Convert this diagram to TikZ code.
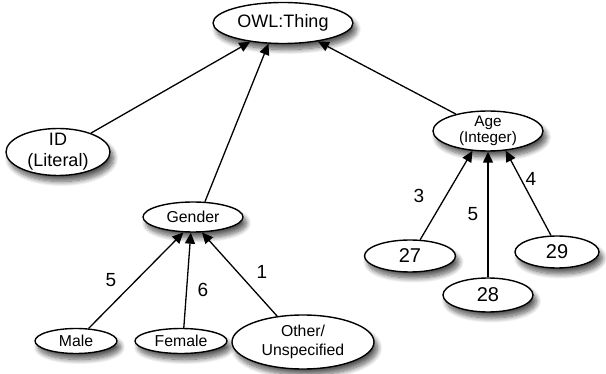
\documentclass[tikz,border=0pt]{standalone}
\usepackage{fontspec}
\setmainfont{Liberation Sans}
\usetikzlibrary{shapes.geometric,arrows.meta,shadows.blur}
\begin{document}
\begin{tikzpicture}[x=1pt,y=-1pt,
  ell/.style={ellipse,draw=black,line width=1.4pt,fill=white,inner sep=0pt,
    blur shadow={shadow xshift=3.5pt,shadow yshift=-6pt,shadow blur radius=5pt,shadow blur steps=10,shadow opacity=65}},
  txt/.style={inner sep=0pt,align=center},
  bigtxt/.style={txt,font=\fontsize{18}{21}\selectfont},
  midtxt/.style={txt,font=\fontsize{15.8}{18.5}\selectfont},
  numtxt/.style={txt,font=\fontsize{20}{22}\selectfont},
  lbl/.style={font=\fontsize{19}{20}\selectfont},
  arr/.style={line width=1.3pt,-{Triangle[length=11pt,width=10pt]}}]
\useasboundingbox (0,0) rectangle (606,374);
\node[ell,minimum width=140pt,minimum height=41pt] (owl) at (283,23) {};
\node[bigtxt] (owltxt) at (owl) {OWL:Thing};
\node[ell,minimum width=104pt,minimum height=47pt] (id) at (58,152) {};
\node[bigtxt] (idtxt) at (id) {ID\\(Literal)};
\node[ell,minimum width=110pt,minimum height=40pt] (age) at (488,131) {};
\node[midtxt,font=\fontsize{15.3}{15.5}\selectfont] (agetxt) at (age) {Age\\(Integer)};
\node[ell,minimum width=100pt,minimum height=30pt] (gender) at (193,217) {};
\node[midtxt] (gendertxt) at (gender) {Gender};
\node[ell,minimum width=82pt,minimum height=25pt] (male) at (76,341) {};
\node[midtxt] (maletxt) at (male) {Male};
\node[ell,minimum width=92pt,minimum height=25pt] (female) at (181,341) {};
\node[midtxt] (femaletxt) at (female) {Female};
\node[ell,minimum width=142pt,minimum height=54pt] (other) at (303,342) {};
\node[midtxt] (othertxt) at (other) {Other/\\Unspecified};
\node[ell,minimum width=91pt,minimum height=32pt] (n27) at (410,256) {};
\node[numtxt] (n27txt) at (n27) {27};
\node[ell,minimum width=90pt,minimum height=34pt] (n28) at (488,295) {};
\node[numtxt] (n28txt) at (n28) {28};
\node[ell,minimum width=84pt,minimum height=32pt] (n29) at (557,252) {};
\node[numtxt] (n29txt) at (n29) {29};

\draw[arr] (id) -- (owl);
\draw[arr] (gender.52) -- (owl.235);
\draw[arr] (age) -- (owl);
\draw[arr] (male.45) -- (gender.238);
\draw[arr] (female.78) -- (gender.262);
\draw[arr] (other.135) -- (gender.300);
\draw[arr] (n27.58) -- (age.232);
\draw[arr] (n28.north) -- (age.south);
\draw[arr] (n29.110) -- (age.312);

\node[lbl] (l5a) at (111,280) {5};
\node[lbl] (l6) at (203,290) {6};
\node[lbl] (l1) at (262,272) {1};
\node[lbl] (l3) at (419,196) {3};
\node[lbl] (l5b) at (473,214) {5};
\node[lbl] (l4) at (531,179) {4};
\end{tikzpicture}
\end{document}
